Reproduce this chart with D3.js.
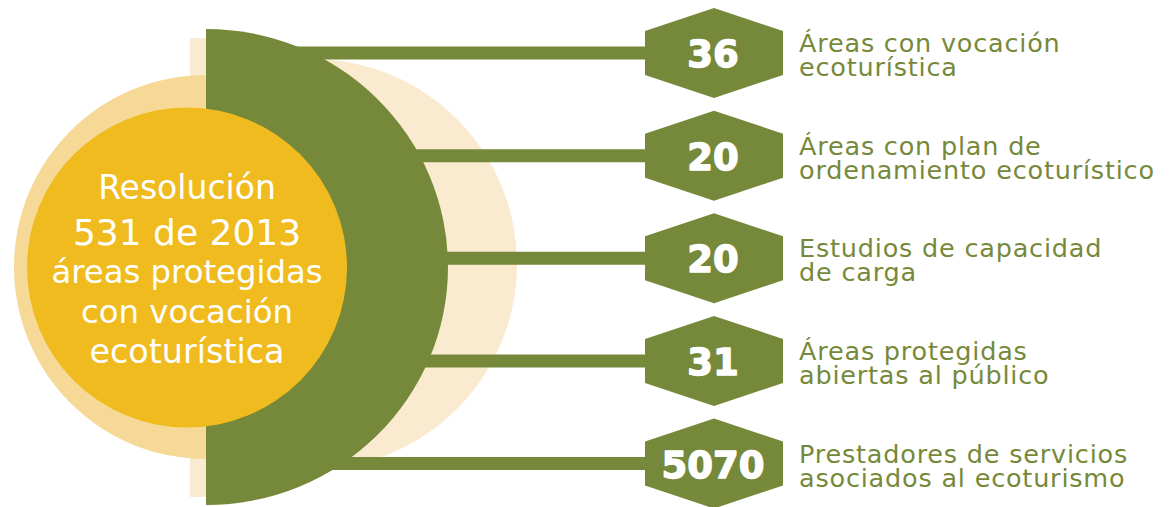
<!DOCTYPE html>
<html>
<head>
<meta charset="utf-8">
<script src="https://cdn.jsdelivr.net/npm/d3@7"></script>
<style>
  body { margin: 0; background: #fff; }
  svg { display: block; }
</style>
</head>
<body>
<svg id="chart"></svg>
<script>
// indicadores de ecoturismo - Resolución 531 de 2013
var w = 1170
var h = 507

var categories = ["vocacion", "plan", "capacidad", "abiertas", "prestadores"]
var values = [36, 20, 20, 31, 5070]
var labelLine1 = ["Áreas con vocación", "Áreas con plan de", "Estudios de capacidad", "Áreas protegidas", "Prestadores de servicios"]
var labelLine2 = ["ecoturística", "ordenamiento ecoturístico", "de carga", "abiertas al público", "asociados al ecoturismo"]
var centerLines = ["Resolución", "531 de 2013", "áreas protegidas", "con vocación", "ecoturística"]

var green = "#76893a"
var yellow = "#f0bb1e"
var beige = "#f6d997"
var cream = "#faebd0"
var font = "'DejaVu Sans', sans-serif"

var svg = d3.select("#chart")
    .attr("width", w)
    .attr("height", h)

// row positions
var y = d3.scalePoint()
    .domain(categories)
    .range([53, 463.5])

var cx = 206, cy = 267

// background shapes
svg.append("circle")
    .attr("cx", 312).attr("cy", 264).attr("r", 205)
    .attr("fill", cream)
svg.append("rect")
    .attr("x", 190).attr("y", 38).attr("width", 20).attr("height", 459)
    .attr("fill", cream)
svg.append("circle")
    .attr("cx", cx).attr("cy", cy).attr("r", 192)
    .attr("fill", beige)

// connector lines
svg.selectAll("line.conn")
    .data(categories)
    .enter().append("line")
    .attr("class", "conn")
    .attr("x1", cx)
    .attr("x2", 700)
    .attr("y1", function (d) { return y(d) })
    .attr("y2", function (d) { return y(d) })
    .attr("stroke", green)
    .attr("stroke-width", 13)

// green half disc
var rx = 242, ry = 238
svg.append("path")
    .attr("d", "M" + cx + "," + (cy - ry) +
        " A" + rx + "," + ry + " 0 0 1 " + cx + "," + (cy + ry) + " Z")
    .attr("fill", green)

// yellow circle with text
svg.append("circle")
    .attr("cx", 187).attr("cy", 267.5).attr("r", 160)
    .attr("fill", yellow)

var centerSizes = [33, 36, 32.3, 32.4, 33.4]
var centerBase = [199, 245, 283, 323, 363]
svg.selectAll("text.center")
    .data(centerLines)
    .enter().append("text")
    .attr("class", "center")
    .attr("x", 187)
    .attr("y", function (d, i) { return centerBase[i] })
    .attr("text-anchor", "middle")
    .attr("font-family", font)
    .attr("font-size", function (d, i) { return centerSizes[i] })
    .attr("fill", "#fff")
    .text(function (d) { return d })

// hexagons
var hx = 714, hw = 69, hh = 45, hs = 22
var hexPath = function (c) {
    return "M" + hx + "," + (c - hh) +
        " L" + (hx + hw) + "," + (c - hs) +
        " L" + (hx + hw) + "," + (c + hs) +
        " L" + hx + "," + (c + hh) +
        " L" + (hx - hw) + "," + (c + hs) +
        " L" + (hx - hw) + "," + (c - hs) + " Z"
}

var rows = svg.selectAll("g.row")
    .data(categories)
    .enter().append("g")
    .attr("class", "row")

rows.append("path")
    .attr("d", function (d) { return hexPath(y(d)) })
    .attr("fill", green)

// heavy numbers (stroke thickens the bold face)
rows.append("text")
    .attr("x", hx - 1)
    .attr("y", function (d) { return y(d) + 14 })
    .attr("text-anchor", "middle")
    .attr("font-family", font)
    .attr("font-weight", "bold")
    .attr("font-size", 37)
    .attr("fill", "#fff")
    .attr("stroke", "#fff")
    .attr("stroke-width", 1.4)
    .attr("stroke-linejoin", "round")
    .text(function (d, i) { return values[i] })

rows.append("text")
    .attr("x", 799)
    .attr("y", function (d) { return y(d) - 1 })
    .attr("font-family", font)
    .attr("font-size", 25.5)
    .attr("letter-spacing", 0.8)
    .attr("fill", green)
    .text(function (d, i) { return labelLine1[i] })

rows.append("text")
    .attr("x", 799)
    .attr("y", function (d) { return y(d) + 23 })
    .attr("font-family", font)
    .attr("font-size", 25.5)
    .attr("letter-spacing", 0.8)
    .attr("fill", green)
    .text(function (d, i) { return labelLine2[i] })
</script>
</body>
</html>
